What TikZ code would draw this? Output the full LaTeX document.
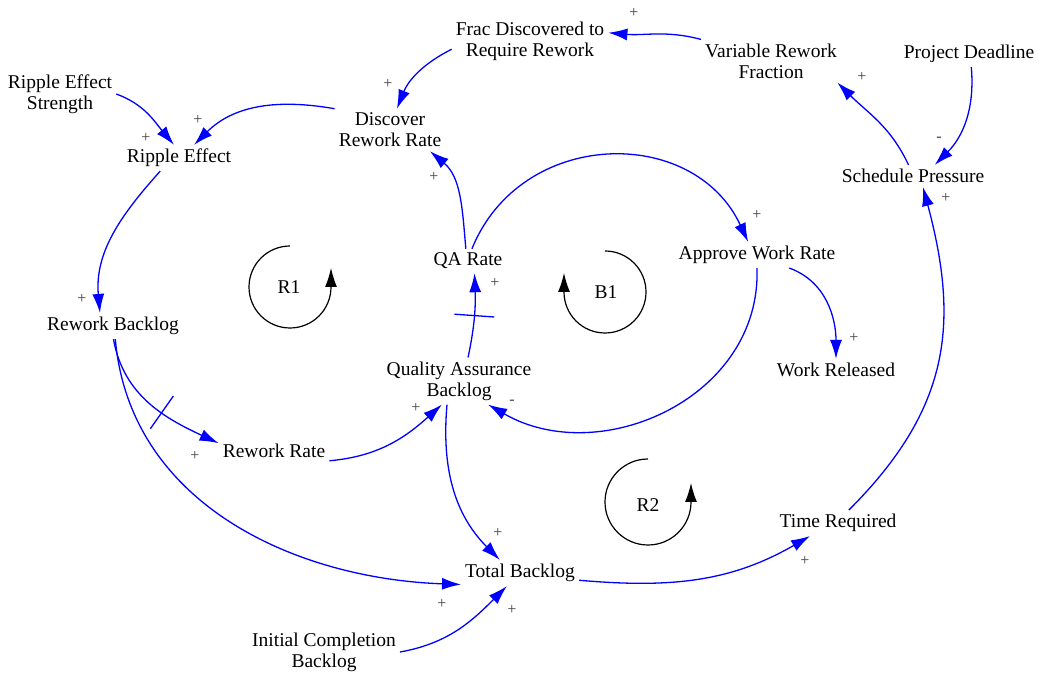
\documentclass[tikz,border=0pt]{standalone}
\usepackage{fontspec}
\setmainfont{Liberation Serif}
\usetikzlibrary{arrows.meta}

\begin{document}
\begin{tikzpicture}[x=1pt,y=1pt,
	var/.style={font=\fontsize{19.5}{21}\selectfont,align=center,inner sep=4pt},
	pol/.style={font=\fontsize{16}{16}\selectfont,text=black!75,inner sep=0pt},
	link/.style={draw=blue,line width=1.3pt,-{Latex[length=19pt,width=12pt]}},
	delay/.style={draw=blue,line width=1.3pt,inner sep=0pt,minimum width=0pt,minimum height=40pt},
	loopar/.style={line width=1.2pt,-{Latex[length=19pt,width=12pt]}}]
	\useasboundingbox (0,0) rectangle (1039,675);

	% variables
	\node[var] (frac) at (530,634) {Frac Discovered to\\Require Rework};
	\node[var] (vrf) at (771,614) {Variable Rework\\Fraction};
	\node[var] (pd) at (969,621) {Project Deadline};
	\node[var] (res) at (60,581) {Ripple Effect\\Strength};
	\node[var] (drr) at (390,545) {Discover\\Rework Rate};
	\node[var] (re) at (179,517) {Ripple Effect};
	\node[var] (sp) at (913,499) {Schedule Pressure};
	\node[var] (qa) at (468,414) {QA Rate};
	\node[var] (awr) at (757,420) {Approve Work Rate};
	\node[var] (rb) at (113,349) {Rework Backlog};
	\node[var] (wr) at (836,305) {Work Released};
	\node[var] (qab) at (459,294) {Quality Assurance\\Backlog};
	\node[var] (rr) at (274,224) {Rework Rate};
	\node[var] (tr) at (838,152) {Time Required};
	\node[var] (tb) at (520,102) {Total Backlog};
	\node[var] (icb) at (324,23) {Initial Completion\\Backlog};

	% links
	\draw[link] (vrf.north west) to[out=165,in=-5] (frac.6);
	\draw[link] (frac.186) to[out=207,in=68] (drr.72);
	\draw[link] (drr.north west) to[out=170,in=45] (re.41);
	\draw[link] (res.east) to[out=-20,in=130] (re.111);
	\draw[link] (re.215) to[out=228,in=95] (rb.135);
	\draw[link] (rb.-88) to[out=-80,in=155] node[delay,pos=.6,sloped] (d1) {} (rr.172);
	\draw[link] (rb.-80) to[out=-85,in=178] (tb.191);
	\draw[link] (rr.-10) to[out=5,in=222] (qab.234);
	\draw[link] (qab.69) to[out=78,in=-88] node[delay,pos=.5,sloped] (d2) {} (qa.-62);
	\draw[link] (qa.100) to[out=95,in=-40] (drr.-28);
	\draw[link] (qa.72) to[out=68,in=115,looseness=1.2] (awr.124);
	\draw[link] (awr.-90) to[out=-88,in=-30,looseness=1.1] (qab.-39);
	\draw[link] (awr.-22) to[out=-20,in=90] (wr.north);
	\draw[link] (qab.243) to[out=-95,in=135] (tb.147);
	\draw[link] (icb.east) to[out=10,in=225] (tb.225);
	\draw[link] (tb.-7) to[out=-5,in=210] (tr.205);
	\draw[link] (tr.50) to[out=45,in=-75,looseness=1.1] (sp.-48);
	\draw[link] (sp.112) to[out=115,in=-45] (vrf.-18);
	\draw[link] (pd.-80) to[out=-85,in=45] (sp.27);

	% polarities
	\node[pol] (p1) at (634,662) {+};
	\node[pol] (p2) at (388,591) {+};
	\node[pol] (p3) at (198,555) {+};
	\node[pol] (p4) at (146,537) {+};
	\node[pol] (p5) at (82,376) {+};
	\node[pol] (p6) at (195,219) {+};
	\node[pol] (p7) at (442,71) {+};
	\node[pol] (p8) at (416,267) {+};
	\node[pol] (p9) at (495,392) {+};
	\node[pol] (p10) at (434,498) {+};
	\node[pol] (p11) at (757,460) {+};
	\node[pol] (p12) at (512,273) {-};
	\node[pol] (p13) at (854,337) {+};
	\node[pol] (p14) at (498,142) {+};
	\node[pol] (p15) at (512,65) {+};
	\node[pol] (p16) at (805,114) {+};
	\node[pol] (p17) at (946,477) {+};
	\node[pol] (p18) at (862,598) {+};
	\node[pol] (p19) at (939,536) {-};

	% loops
	\draw[loopar] (290,429) arc[start angle=90,end angle=360,radius=41] -- ++(0,19);
	\node[var] (r1) at (289,388) {R1};
	\draw[loopar] (605,424) arc[start angle=90,end angle=-180,radius=41] -- ++(0,19);
	\node[var] (b1) at (606,383) {B1};
	\draw[loopar] (648,216) arc[start angle=90,end angle=360,radius=43] -- ++(0,19);
	\node[var] (r2) at (648,170) {R2};
\end{tikzpicture}
\end{document}
